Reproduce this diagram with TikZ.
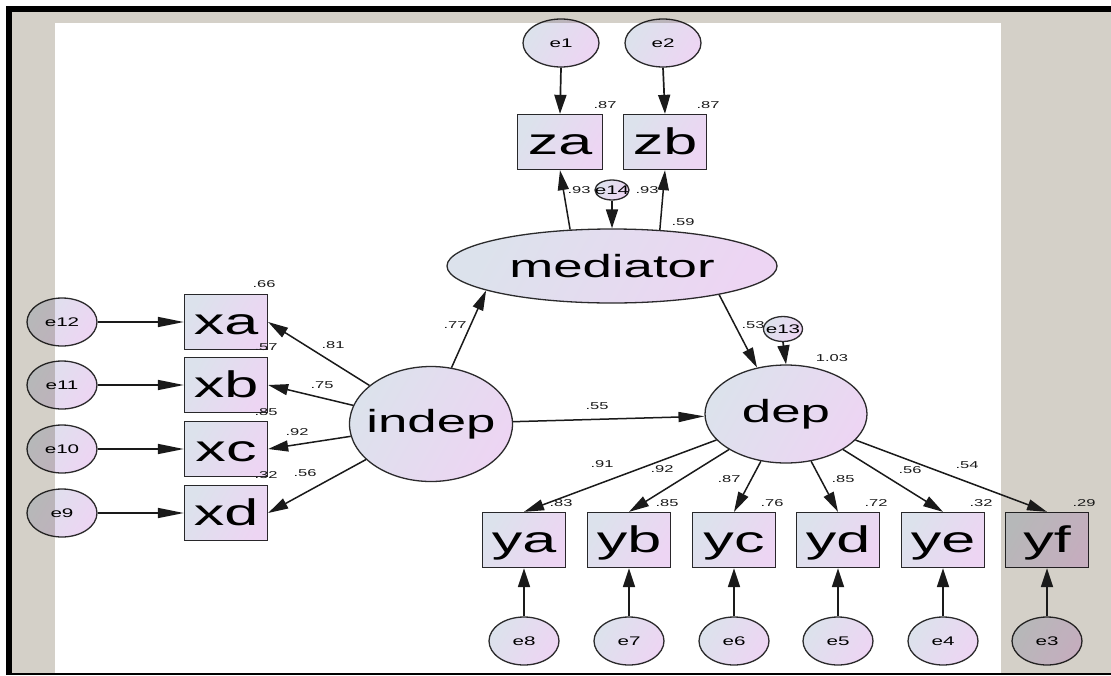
\documentclass[tikz,border=0pt]{standalone}
\usepackage{fontspec}
\setmainfont{Liberation Sans}
\newfontfamily\capfont{Liberation Serif}
\usetikzlibrary{arrows.meta,shapes.geometric}

\definecolor{panelgrey}{HTML}{D4D0C8}
\definecolor{fillA}{HTML}{DCE2EC}
\definecolor{fillB}{HTML}{EDD5F3}
\definecolor{ink}{HTML}{1A1A1A}
\definecolor{rim}{HTML}{2E2E2E}

% widened, zero-width label text
\newcommand\wtxt[1]{\makebox[0pt]{\scalebox{1.65}[1]{#1}}}

\tikzset{
  shaded/.style={draw=rim, line width=1.3pt, top color=fillA, bottom color=fillB, shading angle=60, inner sep=0pt},
  obs/.style={shaded, rectangle, minimum width=83pt, minimum height=55pt, text height=28pt, text depth=4pt, font=\fontsize{37}{37}\selectfont},
  latent/.style={shaded, ellipse, font=\fontsize{32}{32}\selectfont},
  err/.style={shaded, ellipse, minimum width=70pt, minimum height=48pt, font=\fontsize{12.5}{12.5}\selectfont},
  smallerr/.style={shaded, ellipse, font=\fontsize{12.5}{12.5}\selectfont},
  coef/.style={inner sep=0pt, font=\fontsize{10}{10}\selectfont, text=ink},
  arr/.style={draw=ink, line width=1.5pt, -{Triangle[length=20pt,width=11pt]}},
  arrv/.style={draw=ink, line width=1.7pt, -{Triangle[length=19pt,width=12pt]}},
  arrh/.style={draw=ink, line width=1.5pt, -{Triangle[length=26pt,width=10pt]}},
}

\begin{document}
\begin{tikzpicture}[x=1pt,y=-1pt]
\useasboundingbox (0,0) rectangle (1111,675);
% window frame and page
\fill[white] (0,0) rectangle (1111,675);
\fill[panelgrey] (12,12) rectangle (1111,673);
\fill[white] (55,23) rectangle (1001,673);
\fill[black] (6,6) rectangle (1111,12);
\fill[black] (6,6) rectangle (12,675);
\fill[black] (12,673) rectangle (1111,675);
\begin{scope}
  \clip (0,0) rectangle (1111,6);
  \node[anchor=base west, inner sep=0pt, font=\capfont\bfseries\fontsize{29}{29}\selectfont] (caption) at (164,-9) {Diagram (1)};
\end{scope}

% variables
\begin{scope}[blend mode=multiply]
  \node[err, minimum width=76pt] (e1) at (561,43) {\wtxt{e1}};
  \node[err, minimum width=76pt] (e2) at (663,43) {\wtxt{e2}};
  \node[obs, minimum width=85pt] (za) at (560,142) {\wtxt{za}};
  \node[obs] (zb) at (665,142) {\wtxt{zb}};
  \node[smallerr, minimum width=34pt, minimum height=20pt] (e14) at (612,190) {\wtxt{e14}};
  \node[latent, minimum width=330pt, minimum height=74pt] (mediator) at (612,266) {\wtxt{mediator}};

  \node[err] (e12) at (62,322) {\wtxt{e12}};
  \node[err] (e11) at (62,385) {\wtxt{e11}};
  \node[err] (e10) at (62,449) {\wtxt{e10}};
  \node[err] (e9)  at (62,513) {\wtxt{e9}};
  \node[obs] (xa) at (226,322) {\wtxt{xa}};
  \node[obs] (xb) at (226,385) {\wtxt{xb}};
  \node[obs] (xc) at (226,449) {\wtxt{xc}};
  \node[obs] (xd) at (226,513) {\wtxt{xd}};

  \node[latent, minimum width=163pt, minimum height=115pt] (indep) at (431,424) {\wtxt{indep}};
  \node[latent, minimum width=162pt, minimum height=98pt] (dep) at (786,414) {\wtxt{dep}};
  \node[smallerr, minimum width=39pt, minimum height=25pt] (e13) at (783,329) {\wtxt{e13}};

  \foreach \n/\e/\x in {ya/e8/524, yb/e7/629, yc/e6/734, yd/e5/838, ye/e4/943, yf/e3/1047} {
    \node[obs] (\n) at (\x,540) {\wtxt{\n}};
    \node[err] (\e) at (\x,641) {\wtxt{\e}};
  }
\end{scope}

% paths
\draw[arrv] (e1.south) -- (za.north);
\draw[arrv] (e2.south) -- (zb.north);
\draw[arr] (mediator.139.4) -- (za.south);
\draw[arr] (mediator.37.9) -- (zb.south);
\draw[arrv] (e14.south) -- (mediator.north);

\draw[arrh] (e12.east) -- (xa.west);
\draw[arrh] (e11.east) -- (xb.west);
\draw[arrh] (e10.east) -- (xc.west);
\draw[arrh] (e9.east) -- (xd.west);
\draw[arr] (indep) -- (xa.east);
\draw[arr] (indep) -- (xb.east);
\draw[arr] (indep) -- (xc.east);
\draw[arr] (indep) -- (xd.east);

\draw[arr] (indep.70.9) -- (mediator.191.3);
\draw[arrh] (indep) -- (dep);
\draw[arr] (mediator.345.5) -- (dep.122);
\draw[arrv] (e13.south) -- (dep.north);

\foreach \n/\e in {ya/e8, yb/e7, yc/e6, yd/e5, ye/e4, yf/e3} {
  \draw[arr] (dep) -- (\n.north);
  \draw[arrv] (\e.north) -- (\n.south);
}

% estimates
\node[coef] (r-za) at (605,105) {\wtxt{.87}};
\node[coef] (r-zb) at (708,105) {\wtxt{.87}};
\node[coef] (l-za) at (579,190) {\wtxt{.93}};
\node[coef] (l-zb) at (647,190) {\wtxt{.93}};
\node[coef] (r-med) at (683,222) {\wtxt{.59}};

\node[coef] (r-xa) at (264,284) {\wtxt{.66}};
\node[coef] (r-xb) at (266,347) {\wtxt{.57}};
\node[coef] (r-xc) at (266,412) {\wtxt{.85}};
\node[coef] (r-xd) at (266,475) {\wtxt{.32}};
\node[coef] (l-xa) at (333,345) {\wtxt{.81}};
\node[coef] (l-xb) at (322,385) {\wtxt{.75}};
\node[coef] (l-xc) at (297,432) {\wtxt{.92}};
\node[coef] (l-xd) at (305,473) {\wtxt{.56}};

\node[coef] (b-im) at (455,325) {\wtxt{.77}};
\node[coef] (b-id) at (597,406) {\wtxt{.55}};
\node[coef] (b-md) at (753,325) {\wtxt{.53}};
\node[coef] (r-dep) at (832,358) {\wtxt{1.03}};

\node[coef] (l-ya) at (602,464) {\wtxt{.91}};
\node[coef] (l-yb) at (662,469) {\wtxt{.92}};
\node[coef] (l-yc) at (729,479) {\wtxt{.87}};
\node[coef] (l-yd) at (843,479) {\wtxt{.85}};
\node[coef] (l-ye) at (910,470) {\wtxt{.56}};
\node[coef] (l-yf) at (967,465) {\wtxt{.54}};

\node[coef] (r-ya) at (561,503) {\wtxt{.83}};
\node[coef] (r-yb) at (667,503) {\wtxt{.85}};
\node[coef] (r-yc) at (772,503) {\wtxt{.76}};
\node[coef] (r-yd) at (876,503) {\wtxt{.72}};
\node[coef] (r-ye) at (981,503) {\wtxt{.32}};
\node[coef] (r-yf) at (1084,503) {\wtxt{.29}};
\end{tikzpicture}
\end{document}
